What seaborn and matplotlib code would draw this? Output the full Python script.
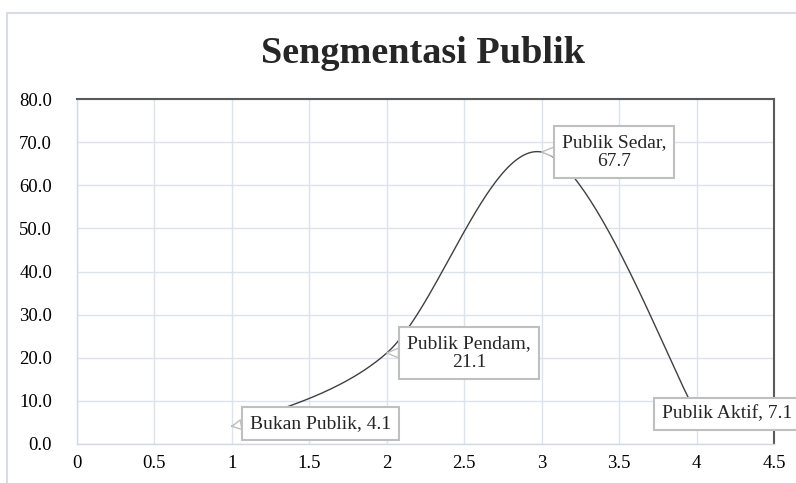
import numpy as np
import pandas as pd
import matplotlib
matplotlib.use("Agg")
import matplotlib.pyplot as plt
import seaborn as sns
from matplotlib.patches import Rectangle
from matplotlib.ticker import FuncFormatter, MultipleLocator

# ---- data ----
categories = ["Bukan Publik", "Publik Pendam", "Publik Sedar", "Publik Aktif"]
x_vals = [1, 2, 3, 4]
y_vals = [4.1, 21.1, 67.7, 7.1]
label_texts = ["Bukan Publik, 4.1", "Publik Pendam,\n21.1", "Publik Sedar,\n67.7", "Publik Aktif, 7.1"]
title = "Sengmentasi Publik"

sns.set_theme(style="white")
plt.rcParams['font.family'] = ['Liberation Serif', 'DejaVu Serif']

# Excel-style smoothed line (cubic Bezier through the data points)
def excel_smooth(xs, ys, n=60):
    P = np.column_stack([xs, ys]).astype(float)
    m = len(P)
    out = []
    for i in range(m - 1):
        p0 = P[i - 1] if i > 0 else P[i]
        p1, p2 = P[i], P[i + 1]
        p3 = P[i + 2] if i + 2 < m else P[i + 1]
        c1 = p1 + (p2 - p0) / 6.0
        c2 = p2 - (p3 - p1) / 6.0
        t = np.linspace(0, 1, n)[:, None]
        seg = ((1 - t) ** 3) * p1 + 3 * ((1 - t) ** 2) * t * c1 + 3 * (1 - t) * t ** 2 * c2 + t ** 3 * p2
        out.append(seg if i == 0 else seg[1:])
    return np.vstack(out)

curve = excel_smooth(x_vals, y_vals)
df_curve = pd.DataFrame({"x": curve[:, 0], "y": curve[:, 1]})

fig = plt.figure(figsize=(7.96, 4.83), dpi=100)
# outer chart border
fig.patches.append(Rectangle((7 / 796, -0.1), 1.2, (483 - 13) / 483 + 0.1,
                             transform=fig.transFigure, fill=False,
                             edgecolor="#d9dde3", linewidth=1.5))

ax = fig.add_axes([77 / 796, 39 / 483, 697 / 796, 345 / 483])
sns.lineplot(data=df_curve, x="x", y="y", sort=False, ax=ax, color="#404040", linewidth=1.0)

ax.set_xlim(0, 4.5)
ax.set_ylim(0, 80)
ax.xaxis.set_major_locator(MultipleLocator(0.5))
ax.yaxis.set_major_locator(MultipleLocator(10))
ax.xaxis.set_major_formatter(FuncFormatter(lambda v, p: f"{v:g}"))
ax.yaxis.set_major_formatter(FuncFormatter(lambda v, p: f"{v:.1f}"))
ax.grid(True, color="#dde3ec", linewidth=1.0)
ax.set_axisbelow(True)
ax.tick_params(axis="both", length=0, labelsize=13.5, colors="black")
ax.tick_params(axis="y", pad=18)
ax.tick_params(axis="x", pad=8)
ax.set_xlabel("")
ax.set_ylabel("")
for s in ["left", "bottom"]:
    ax.spines[s].set_color("#d0d8e4")
    ax.spines[s].set_linewidth(1.0)
for s in ["top", "right"]:
    ax.spines[s].set_color("#5a5a5a")
    ax.spines[s].set_linewidth(1.5)

fig.text(423 / 796, 1 - 63 / 483, title, ha="center", va="baseline",
         fontsize=27.5, fontweight="bold")

label_pos = [(1.57, 4.8), (2.53, 21.1), (3.47, 67.7), (3.775, 7.0)]
label_ha = ["center", "center", "center", "left"]
for (tx, ty), (px, py), txt, ha in zip(label_pos, zip(x_vals, y_vals), label_texts, label_ha):
    ax.annotate(txt, xy=(px, py), xytext=(tx, ty), ha=ha, va="center",
                fontsize=14, multialignment="center", annotation_clip=False,
                bbox=dict(boxstyle="square,pad=0.4", fc="white", ec="#bfbfbf", lw=1.5),
                arrowprops=dict(arrowstyle="wedge,tail_width=0.5,shrink_factor=0.5",
                                fc="white", ec="#bfbfbf", lw=1.0,
                                shrinkA=0, shrinkB=0, relpos=(0.0, 0.5)),
                zorder=5)

fig.savefig("out.png", dpi=100)
